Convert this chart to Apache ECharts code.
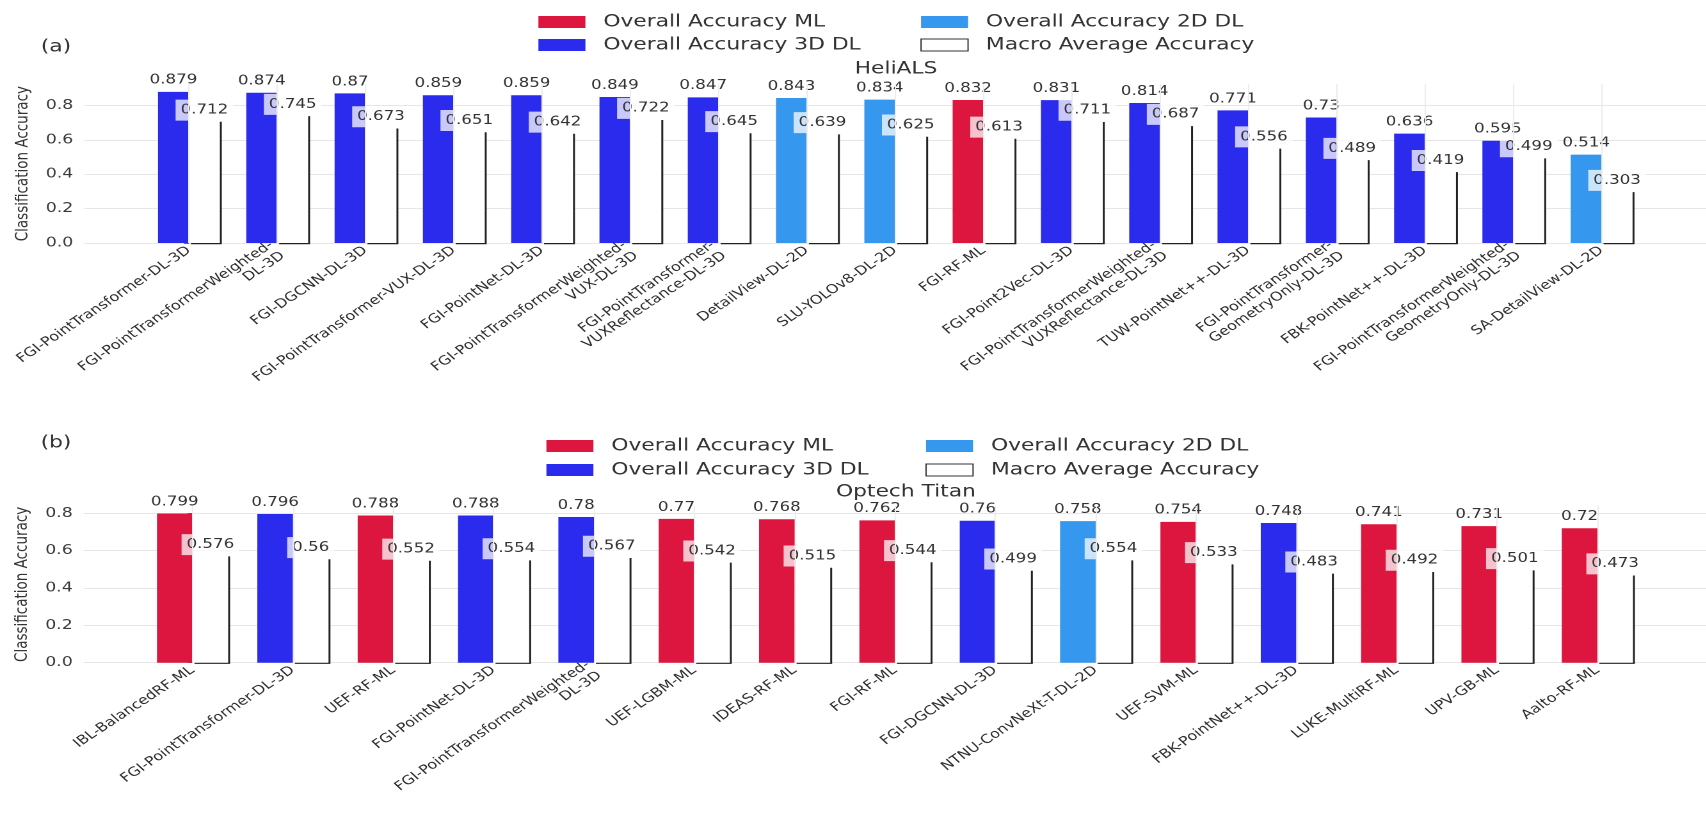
<!DOCTYPE html>
<html>
<head>
<meta charset="utf-8">
<script src="https://cdn.jsdelivr.net/npm/echarts@6/dist/echarts.min.js"></script>
<style>
  html, body { margin: 0; padding: 0; background: #fff; overflow: hidden; }
  #chart { position: absolute; left: 0; top: 0; height: 819px; transform-origin: 0 0; }
</style>
</head>
<body>
<div id="chart"></div>
<script>
// ---------- (a) HeliALS ----------
const heliCategories = [
  'FGI-PointTransformer-DL-3D',
  'FGI-PointTransformerWeighted-\nDL-3D',
  'FGI-DGCNN-DL-3D',
  'FGI-PointTransformer-VUX-DL-3D',
  'FGI-PointNet-DL-3D',
  'FGI-PointTransformerWeighted-\nVUX-DL-3D',
  'FGI-PointTransformer-\nVUXReflectance-DL-3D',
  'DetailView-DL-2D',
  'SLU-YOLOv8-DL-2D',
  'FGI-RF-ML',
  'FGI-Point2Vec-DL-3D',
  'FGI-PointTransformerWeighted-\nVUXReflectance-DL-3D',
  'TUW-PointNet++-DL-3D',
  'FGI-PointTransformer-\nGeometryOnly-DL-3D',
  'FBK-PointNet++-DL-3D',
  'FGI-PointTransformerWeighted-\nGeometryOnly-DL-3D',
  'SA-DetailView-DL-2D'
];
const heliOverall = [0.879, 0.874, 0.87, 0.859, 0.859, 0.849, 0.847, 0.843, 0.834, 0.832, 0.831, 0.814, 0.771, 0.73, 0.636, 0.595, 0.514];
const heliMacro   = [0.712, 0.745, 0.673, 0.651, 0.642, 0.722, 0.645, 0.639, 0.625, 0.613, 0.711, 0.687, 0.556, 0.489, 0.419, 0.499, 0.303];
const heliMethod  = ['3D', '3D', '3D', '3D', '3D', '3D', '3D', '2D', '2D', 'ML', '3D', '3D', '3D', '3D', '3D', '3D', '2D'];

// ---------- (b) Optech Titan ----------
const titanCategories = [
  'IBL-BalancedRF-ML',
  'FGI-PointTransformer-DL-3D',
  'UEF-RF-ML',
  'FGI-PointNet-DL-3D',
  'FGI-PointTransformerWeighted-\nDL-3D',
  'UEF-LGBM-ML',
  'IDEAS-RF-ML',
  'FGI-RF-ML',
  'FGI-DGCNN-DL-3D',
  'NTNU-ConvNeXt-T-DL-2D',
  'UEF-SVM-ML',
  'FBK-PointNet++-DL-3D',
  'LUKE-MultiRF-ML',
  'UPV-GB-ML',
  'Aalto-RF-ML'
];
const titanOverall = [0.799, 0.796, 0.788, 0.788, 0.78, 0.77, 0.768, 0.762, 0.76, 0.758, 0.754, 0.748, 0.741, 0.731, 0.72];
const titanMacro   = [0.576, 0.56, 0.552, 0.554, 0.567, 0.542, 0.515, 0.544, 0.499, 0.554, 0.533, 0.483, 0.492, 0.501, 0.473];
const titanMethod  = ['ML', '3D', 'ML', '3D', '3D', 'ML', 'ML', 'ML', '3D', '2D', 'ML', '3D', 'ML', 'ML', 'ML'];

const yTicks = [0, 0.2, 0.4, 0.6, 0.8];

const methodNames = { ML: 'Overall Accuracy ML', '3D': 'Overall Accuracy 3D DL', '2D': 'Overall Accuracy 2D DL' };
const macroName = 'Macro Average Accuracy';
const yName = 'Classification Accuracy';

// ---------- drawing setup ----------
// The whole figure is drawn narrower and widened with a horizontal scale.
const S = 1.28;
const W = 1706;
const X = v => v / S;

const FONT = 'DejaVu Sans';
const TEXT = '#333';
const GRID = '#e6e6e6';
const VGRID = '#ececec';
const COLORS = { ML: '#dc163e', '3D': '#2b2bee', '2D': '#3597ee' };

const el = document.getElementById('chart');
el.style.width = (W / S) + 'px';
el.style.transform = 'scaleX(' + S + ')';
const chart = echarts.init(el, null, { renderer: 'canvas', devicePixelRatio: 2 });

// panel placement, in final pixels
const panels = [
  {
    tag: '(a)', title: 'HeliALS',
    cats: heliCategories, overall: heliOverall, macro: heliMacro, method: heliMethod,
    plotLeft: 84.3, zeroY: 243, plotHeight: 158.7, step: 88.375,
    legendCol1: 532, legendCol2: 914, legendRow1: 17, rowPitch: 23,
    tagX: 56, tagY: 47, titleY: 69
  },
  {
    tag: '(b)', title: 'Optech Titan',
    cats: titanCategories, overall: titanOverall, macro: titanMacro, method: titanMethod,
    plotLeft: 83.7, zeroY: 662.7, plotHeight: 156.7, step: 101.7,
    legendCol1: 540, legendCol2: 919, legendRow1: 441, rowPitch: 24,
    tagX: 56, tagY: 443, titleY: 492
  }
];

const option = {
  animation: false,
  backgroundColor: '#fff',
  textStyle: { fontFamily: FONT },
  grid: [], xAxis: [], yAxis: [], series: [], legend: [], graphic: []
};

const valueLabel = p => String(p.value[1]);

panels.forEach((p, k) => {
  const n = p.cats.length;
  const half = 0.35;                              // each bar is 0.35 of a category step
  const pad = half + 0.05 * (n - 1 + 2 * half);   // axis margin around the bars
  const plotWidth = p.step * (n - 1 + 2 * pad);
  const barW = X(p.step * half);
  const idxs = p.cats.map((_, i) => i);
  const yMax = Math.max(...p.overall) * 1.05;

  option.grid.push({
    left: X(p.plotLeft), top: p.zeroY - p.plotHeight,
    width: X(plotWidth), height: p.plotHeight, containLabel: false
  });

  option.xAxis.push({
    type: 'value', gridIndex: k, min: -pad, max: n - 1 + pad,
    axisLine: { show: false },
    axisTick: { show: false, customValues: idxs },
    axisLabel: {
      customValues: idxs, formatter: v => p.cats[Math.round(v)],
      rotate: 40, fontSize: 12.5, lineHeight: 14, color: '#2e2e2e', margin: 6
    },
    splitLine: { show: false }
  });

  option.yAxis.push({
    type: 'value', gridIndex: k, min: 0, max: yMax,
    axisLine: { show: false },
    axisTick: { show: true, customValues: yTicks, length: X(5), lineStyle: { color: '#666' } },
    axisLabel: { customValues: yTicks, formatter: v => v.toFixed(1), fontSize: 13.5, color: '#3a3a3a', margin: X(11) },
    splitLine: { show: true, lineStyle: { color: GRID, width: 1 } },
    name: yName, nameLocation: 'middle', nameGap: X(43),
    nameTextStyle: { fontSize: 13.5, color: TEXT }
  });

  // vertical grid lines through each method's position, kept under the bars
  option.series.push({
    type: 'line', xAxisIndex: k, yAxisIndex: k, data: [], z: 0, silent: true,
    markLine: {
      silent: true, symbol: 'none', label: { show: false },
      lineStyle: { color: VGRID, width: 1, type: 'solid' },
      emphasis: { disabled: true },
      data: idxs.map(i => ({ xAxis: i }))
    }
  });

  // overall accuracy, one series per method family sharing a single column
  ['ML', '3D', '2D'].forEach(t => {
    option.series.push({
      type: 'bar', name: methodNames[t], xAxisIndex: k, yAxisIndex: k,
      stack: 'overall' + k, barWidth: barW, barGap: '0%',
      data: p.overall.map((v, i) => (p.method[i] === t ? [i, v] : [i, '-'])),
      itemStyle: { color: COLORS[t] },
      label: {
        show: true, position: 'top', distance: 5, formatter: valueLabel,
        fontSize: 13, color: TEXT
      },
      silent: true, emphasis: { disabled: true }
    });
  });

  // macro average accuracy, white columns with a dark right/bottom edge
  option.series.push({
    type: 'bar', name: macroName, xAxisIndex: k, yAxisIndex: k,
    barWidth: barW, barGap: '0%',
    data: p.macro.map((v, i) => [i, v]),
    itemStyle: { color: '#fff', shadowColor: '#222', shadowOffsetX: 1.5, shadowOffsetY: 1.2, shadowBlur: 0 },
    label: {
      show: true, position: 'top', distance: 0, formatter: valueLabel,
      fontSize: 13, lineHeight: 13, color: TEXT,
      backgroundColor: 'rgba(255,255,255,0.74)', padding: [4, X(5)]
    },
    silent: true, emphasis: { disabled: true }
  });

  const legendBase = {
    orient: 'vertical', icon: 'rect', selectedMode: false,
    itemWidth: X(47), itemHeight: 12, itemGap: p.rowPitch - 20,
    top: p.legendRow1 - 10,
    textStyle: { fontSize: 17, lineHeight: 20, color: TEXT, padding: [0, 0, 0, 9] }
  };
  option.legend.push(Object.assign({}, legendBase, {
    left: X(p.legendCol1),
    data: [methodNames.ML, methodNames['3D']]
  }));
  option.legend.push(Object.assign({}, legendBase, {
    left: X(p.legendCol2),
    data: [
      methodNames['2D'],
      { name: macroName, itemStyle: { color: '#fff', borderColor: '#333', borderWidth: 1, shadowColor: 'rgba(0,0,0,0)', shadowOffsetX: 0, shadowOffsetY: 0 } }
    ]
  }));

  option.graphic.push({
    type: 'text', x: X(p.tagX), y: p.tagY,
    style: { text: p.tag, fontSize: 17, fontFamily: FONT, fill: TEXT, align: 'center', verticalAlign: 'middle' }
  });
  option.graphic.push({
    type: 'text', x: X(p.plotLeft + plotWidth / 2), y: p.titleY,
    style: { text: p.title, fontSize: 17, fontFamily: FONT, fill: TEXT, align: 'center', verticalAlign: 'middle' }
  });
});

chart.setOption(option);
</script>
</body>
</html>
